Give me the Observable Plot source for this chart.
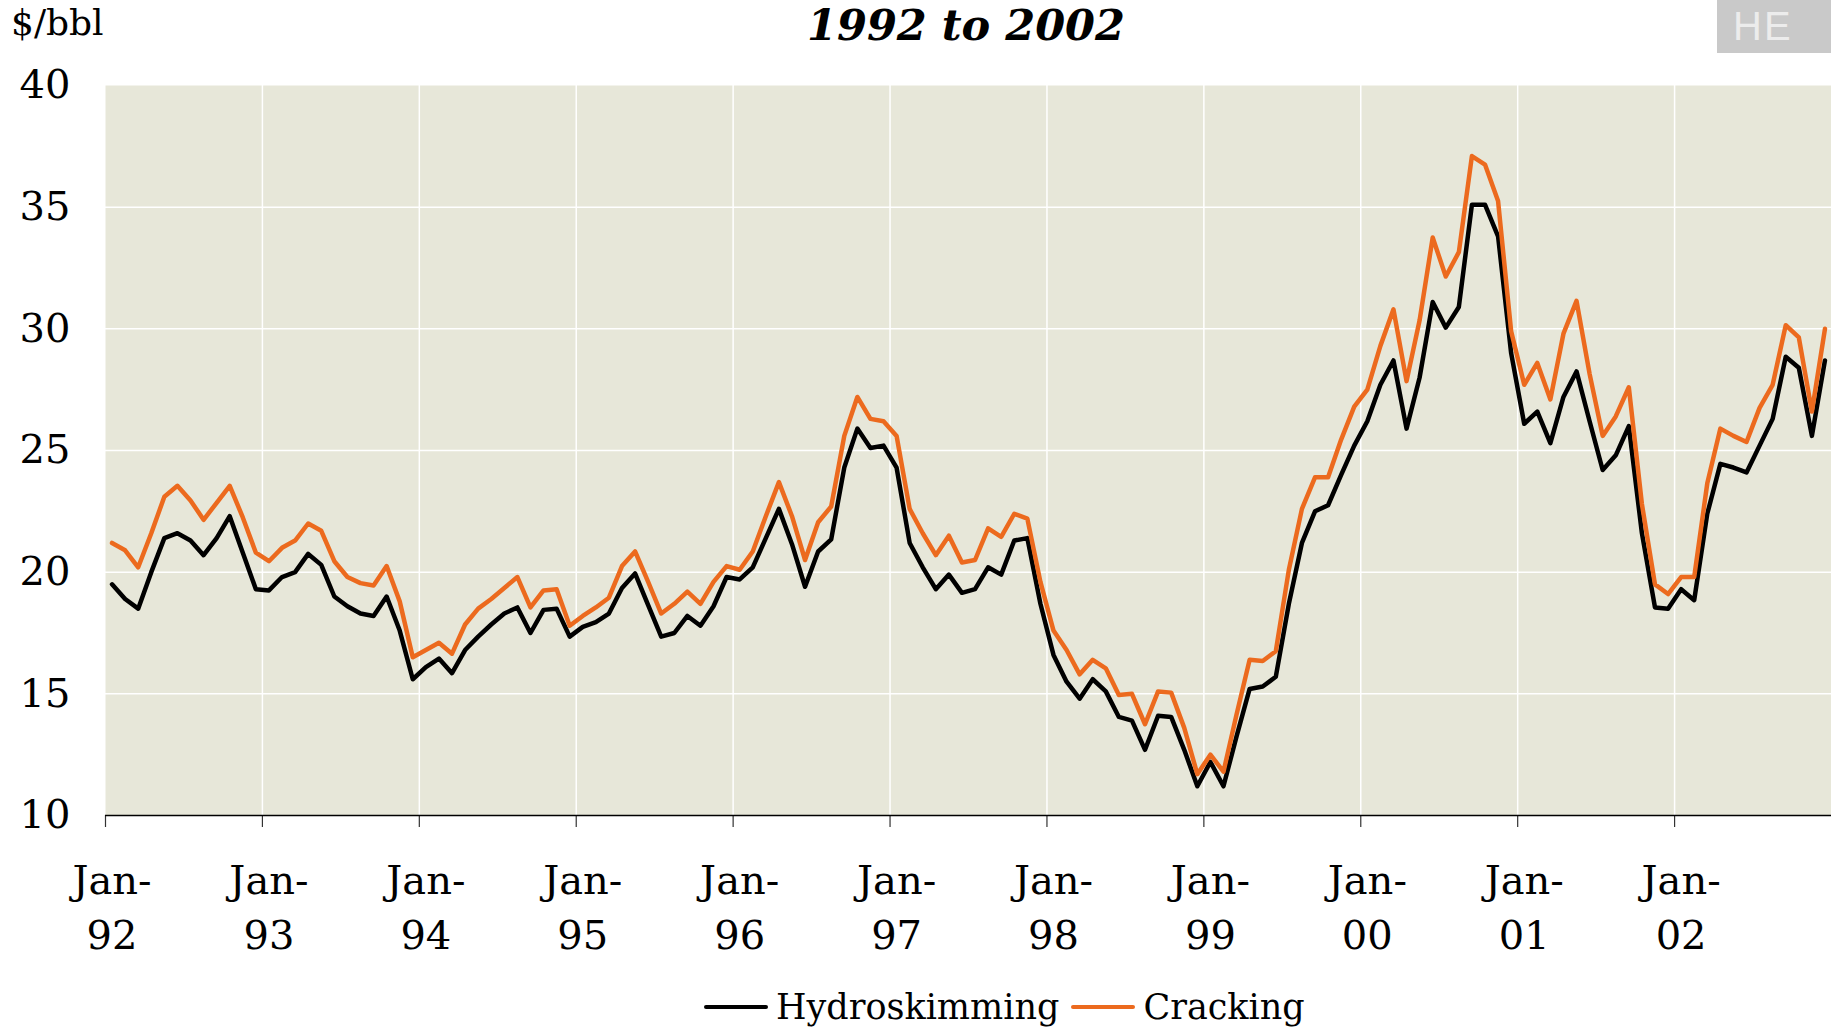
<!DOCTYPE html>
<html><head><meta charset="utf-8">
<script src="https://cdn.jsdelivr.net/npm/d3@7"></script>
<script src="https://cdn.jsdelivr.net/npm/@observablehq/plot@0.6"></script>
<style>
body{margin:0;background:#fff;}
#wrap{position:relative;width:1831px;height:1032px;overflow:hidden;font-family:"DejaVu Serif",serif;background:#fff;}
#header{position:relative;height:45px;}
#unit{position:absolute;left:11px;top:2px;font-size:36px;line-height:42px;color:#000;}
#title{position:absolute;left:966px;top:4px;transform:translateX(-50%);font-size:43px;line-height:43px;font-weight:bold;font-style:italic;white-space:nowrap;color:#000;}
#logo{position:absolute;left:1717px;top:0;width:114px;height:53px;background:#c9c9c9;color:#ececec;font-family:"Liberation Sans",sans-serif;font-size:40px;line-height:52px;letter-spacing:2px;padding-left:16px;box-sizing:border-box;overflow:hidden;}
#chart{position:absolute;left:0;top:45px;}
#legend{position:absolute;left:704px;top:987px;display:flex;align-items:center;font-size:35px;white-space:nowrap;}
.sw{display:inline-block;width:64px;height:4.5px;border-radius:2px;margin-right:8px;}
.item{display:flex;align-items:center;margin-right:12px;}
</style></head><body>
<div id="wrap">
  <div id="header">
    <div id="unit">$/bbl</div>
    <div id="title">1992 to 2002</div>
    <div id="logo">HE</div>
  </div>
  <div id="chart"></div>
  <div id="legend"></div>
</div>
<script>
// Monthly, January 1992 to December 2002
const startYear = 1992;
const seriesNames = ["Hydroskimming", "Cracking"];
const seriesColors = ["#000000", "#ec6a1e"];
const hydroskimming = [
  19.5, 18.9, 18.5, 20.0, 21.4, 21.6, 21.3, 20.7, 21.4, 22.3, 20.8, 19.3,
  19.25, 19.8, 20.0, 20.75, 20.3, 19.0, 18.6, 18.3, 18.2, 19.0, 17.6, 15.6,
  16.1, 16.45, 15.85, 16.8, 17.35, 17.85, 18.3, 18.55, 17.5, 18.45, 18.5, 17.35,
  17.75, 17.95, 18.3, 19.35, 19.95, 18.65, 17.35, 17.5, 18.2, 17.8, 18.6, 19.8,
  19.7, 20.2, 21.4, 22.6, 21.15, 19.4, 20.85, 21.35, 24.3, 25.9, 25.1, 25.2,
  24.3, 21.2, 20.2, 19.3, 19.9, 19.15, 19.3, 20.2, 19.9, 21.3, 21.4, 18.7,
  16.6, 15.5, 14.8, 15.6, 15.1, 14.05, 13.9, 12.7, 14.1, 14.05, 12.7, 11.2,
  12.2, 11.2, 13.25, 15.2, 15.3, 15.7, 18.7, 21.2, 22.5, 22.75, 24.0, 25.2,
  26.2, 27.7, 28.7, 25.9, 28.0, 31.1, 30.05, 30.9, 35.1, 35.1, 33.8, 29.0,
  26.1, 26.6, 25.3, 27.2, 28.25, 26.2, 24.2, 24.8, 26.0, 21.6, 18.55, 18.5,
  19.3, 18.85, 22.4, 24.45, 24.3, 24.1, 25.2, 26.3, 28.85, 28.4, 25.6, 28.7
];
const cracking = [
  21.2, 20.9, 20.2, 21.6, 23.1, 23.55, 22.95, 22.15, 22.85, 23.55, 22.25, 20.8,
  20.45, 21.0, 21.3, 22.0, 21.7, 20.45, 19.8, 19.55, 19.45, 20.25, 18.8, 16.5,
  16.8, 17.1, 16.65, 17.85, 18.5, 18.9, 19.35, 19.8, 18.55, 19.25, 19.3, 17.8,
  18.2, 18.55, 18.95, 20.25, 20.85, 19.6, 18.3, 18.7, 19.2, 18.7, 19.6, 20.25,
  20.1, 20.85, 22.3, 23.7, 22.3, 20.5, 22.05, 22.7, 25.6, 27.2, 26.3, 26.2,
  25.6, 22.6, 21.6, 20.7, 21.5, 20.4, 20.5, 21.8, 21.45, 22.4, 22.2, 19.6,
  17.6, 16.8, 15.8, 16.4, 16.05, 14.95, 15.0, 13.75, 15.1, 15.05, 13.6, 11.7,
  12.5, 11.8, 14.15, 16.4, 16.35, 16.75, 20.1, 22.6, 23.9, 23.9, 25.45, 26.8,
  27.5, 29.3, 30.8, 27.85, 30.35, 33.75, 32.15, 33.15, 37.1, 36.75, 35.25, 29.9,
  27.7, 28.6, 27.1, 29.8, 31.15, 28.15, 25.6, 26.4, 27.6, 22.8, 19.5, 19.1,
  19.8, 19.8, 23.65, 25.9, 25.6, 25.35, 26.75, 27.7, 30.15, 29.65, 26.6, 30.0
];
const yTicks = [10, 15, 20, 25, 30, 35, 40];
const yearLabels = ["92", "93", "94", "95", "96", "97", "98", "99", "00", "01", "02"];

const nMonths = hydroskimming.length;
const rows = [];
seriesNames.forEach((name, s) => {
  const vals = s === 0 ? hydroskimming : cracking;
  vals.forEach((v, i) => rows.push({series: name, m: i + 0.5, value: v}));
});
const yearStarts = yearLabels.map((_, k) => k * 12);
const labelRows = yearLabels.map((y, k) => ({m: k * 12 + 0.5, label: "Jan-\n" + y}));

const chart = Plot.plot({
  width: 1831,
  height: 930,
  marginLeft: 105,
  marginRight: 0,
  marginTop: 40,
  marginBottom: 160,
  style: {fontFamily: "'DejaVu Serif', serif", background: "transparent", overflow: "visible"},
  x: {domain: [0, nMonths], axis: null},
  y: {domain: [10, 40], axis: null},
  marks: [
    Plot.frame({fill: "#e7e7d9", stroke: null}),
    Plot.gridY(yTicks.filter(d => d > 10 && d < 40), {stroke: "#ffffff", strokeOpacity: 1, strokeWidth: 1.5}),
    Plot.gridX(yearStarts.filter(d => d > 0), {stroke: "#ffffff", strokeOpacity: 1, strokeWidth: 1.5}),
    Plot.axisY(yTicks, {label: null, tickSize: 0, tickPadding: 35, fontSize: 40, fill: "#000", tickFormat: d => String(d)}),
    Plot.axisX(yearStarts, {label: null, tickSize: 12, tickFormat: () => "", stroke: "#333", strokeWidth: 1.2}),
    Plot.ruleY([10], {stroke: "#000", strokeWidth: 1.5}),
    Plot.text(labelRows, {x: "m", text: "label", frameAnchor: "bottom", dy: 133, lineAnchor: "bottom", lineHeight: 1.375, fontSize: 40, fill: "#000"}),
    Plot.line(rows, {filter: d => d.series === "Hydroskimming", x: "m", y: "value", stroke: seriesColors[0], strokeWidth: 4.5, strokeLinejoin: "round", strokeLinecap: "round"}),
    Plot.line(rows, {filter: d => d.series === "Cracking", x: "m", y: "value", stroke: seriesColors[1], strokeWidth: 4.5, strokeLinejoin: "round", strokeLinecap: "round"})
  ]
});
document.getElementById("chart").appendChild(chart);

const legend = document.getElementById("legend");
seriesNames.forEach((name, s) => {
  const item = document.createElement("div");
  item.className = "item";
  const sw = document.createElement("span");
  sw.className = "sw";
  sw.style.background = seriesColors[s];
  const t = document.createElement("span");
  t.textContent = name;
  item.appendChild(sw);
  item.appendChild(t);
  legend.appendChild(item);
});
</script>
</body></html>
